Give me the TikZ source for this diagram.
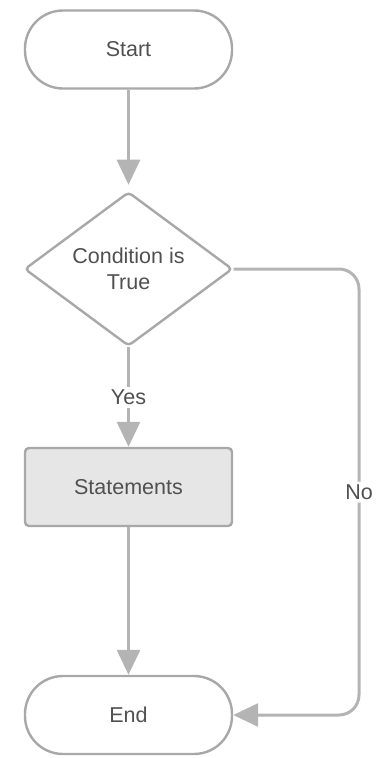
\documentclass[tikz,border=0pt]{standalone}
\usepackage{fontspec}
\setmainfont{Liberation Sans}
\usetikzlibrary{shapes.geometric, arrows.meta}
\definecolor{edgegray}{HTML}{B4B4B4}
\definecolor{boxline}{HTML}{A8A8A8}
\definecolor{boxfill}{HTML}{E6E6E6}
\definecolor{txtgray}{HTML}{505050}

\begin{document}
\begin{tikzpicture}[x=1pt, y=1pt,
  base/.style={draw=boxline, line width=2.4pt, text=txtgray,
    font=\fontsize{21.5}{26}\selectfont, align=center, inner sep=0pt},
  terminal/.style={base, rectangle, rounded corners=38pt,
    minimum width=207pt, minimum height=78pt},
  decision/.style={base, diamond, rounded corners=4pt,
    minimum width=208pt, minimum height=152pt},
  process/.style={base, rectangle, rounded corners=4pt, fill=boxfill,
    minimum width=207pt, minimum height=78pt},
  flow/.style={draw=edgegray, line width=3pt,
    -{Triangle[length=25pt, width=23pt]}},
  lbl/.style={fill=white, text=txtgray, inner sep=3pt,
    font=\fontsize{21.5}{26}\selectfont}
]
\useasboundingbox (0,0) rectangle (378,-758);

% nodes
\node[terminal] (start) at (128.5,-49.5) {Start};
\node[decision] (cond)  at (128.5,-269)  {Condition is\\True};
\node[process]  (stmt)  at (128.5,-487)  {Statements};
\node[terminal] (end)   at (128.5,-715)  {End};
\coordinate (turn) at (359,-269);

% connectors
\draw[flow, shorten >=6pt] (start.south) -- (cond.north);
\draw[flow] (cond.south) -- node[lbl] {Yes} (stmt.north);
\draw[flow] (stmt.south) -- (end.north);
\draw[flow, rounded corners=20pt] (cond.east) -- (turn)
  |- node[lbl, pos=0.25] {No} (end.east);
\end{tikzpicture}
\end{document}
